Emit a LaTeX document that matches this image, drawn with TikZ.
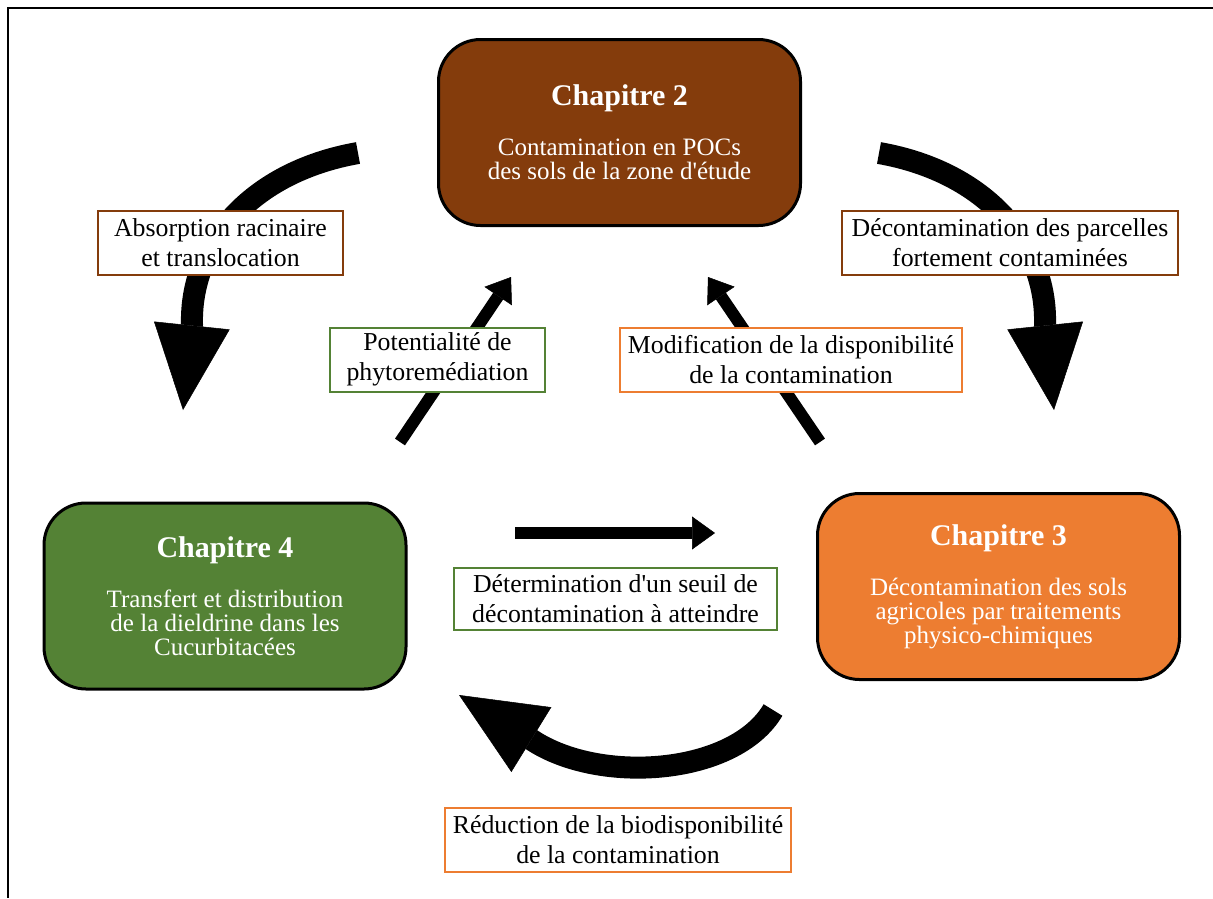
\documentclass[tikz,border=0pt]{standalone}
\usepackage{fontspec}
\setmainfont{Liberation Serif}
\usetikzlibrary{arrows.meta, backgrounds}
\definecolor{chapbrown}{HTML}{843C0C}
\definecolor{chapgreen}{HTML}{548235}
\definecolor{chaporange}{HTML}{ED7D31}
\tikzset{
  chapter/.style={rectangle, rounded corners=42pt, draw=black, line width=3pt, text=white, minimum width=362pt, minimum height=186pt, align=center, font=\fontsize{25}{24}\selectfont},
  tag/.style={rectangle, draw, line width=2pt, fill=white, minimum height=64pt, inner xsep=8pt, align=center, font=\fontsize{25.8}{30}\selectfont},
  bigarrow/.style={line width=22pt, -{Triangle[length=85pt, width=76pt, line width=0.5pt]}},
  smallarrow/.style={line width=12pt, -{Triangle[length=23pt, width=33pt, line width=0.5pt]}}
}
\newcommand{\chaptitle}[1]{{\bfseries\fontsize{30}{30}\selectfont #1}}

\begin{document}
\begin{tikzpicture}[x=1pt, y=-1pt]
  \useasboundingbox (0,0) rectangle (1213,898);
  \draw[line width=2pt] (1213,8) -- (8,8) -- (8,898);

  % chapitres
  \node[chapter, fill=chapbrown] (ch2) at (619.5,132.5) {\chaptitle{Chapitre 2}\\[26pt]Contamination en POCs\\des sols de la zone d\textquotesingle étude};
  \node[chapter, fill=chapgreen] (ch4) at (225,596) {\chaptitle{Chapitre 4}\\[26pt]Transfert et distribution\\de la dieldrine dans les\\Cucurbitacées};
  \node[chapter, fill=chaporange] (ch3) at (998.5,586.5) {\chaptitle{Chapitre 3}\\[26pt]Décontamination des sols\\agricoles par traitements\\physico-chimiques};

  % liens
  \node[tag, draw=chapbrown, minimum width=245pt] (absorb) at (220.5,243) {Absorption racinaire\\et translocation};
  \node[tag, draw=chapbrown, minimum width=336pt] (decont) at (1010,243) {Décontamination des parcelles\\fortement contaminées};
  \node[tag, draw=chapgreen, minimum width=215pt] (potent) at (437.5,359.5) {Potentialité de\\phytoremédiation};
  \node[tag, draw=chaporange, minimum width=336pt] (modif) at (791,359.5) {Modification de la disponibilité\\de la contamination};
  \node[tag, draw=chapgreen, minimum width=323pt, minimum height=62pt] (seuil) at (615.5,598.5) {Détermination d\textquotesingle un seuil de\\décontamination à atteindre};
  \node[tag, draw=chaporange, minimum width=338pt] (reduc) at (618,840) {Réduction de la biodisponibilité\\de la contamination};

  % bouts des fleches
  \coordinate (a24s) at (358,153);  \coordinate (a24t) at (183,410);
  \coordinate (a23s) at (879,153);  \coordinate (a23t) at (1054,410);
  \coordinate (a34s) at (773,710);  \coordinate (a34t) at (459,695);
  \coordinate (a42s) at (400,442);  \coordinate (a42t) at (511,277);
  \coordinate (a32s) at (820,442);  \coordinate (a32t) at (708,277);
  \coordinate (a43s) at (515,533);  \coordinate (a43t) at (715,533);

  \begin{scope}[on background layer]
    \draw[bigarrow] (a24s) .. controls (250,172) and (190,245) .. (192,324) -- (a24t);
    \draw[bigarrow] (a23s) .. controls (987,172) and (1047,245) .. (1045,324) -- (a23t);
    \draw[bigarrow] (a34s) .. controls (735,775) and (600,785) .. (532,740) -- (a34t);
    \draw[smallarrow] (a42s) -- (a42t);
    \draw[smallarrow] (a32s) -- (a32t);
    \draw[smallarrow] (a43s) -- (a43t);
  \end{scope}
\end{tikzpicture}
\end{document}
